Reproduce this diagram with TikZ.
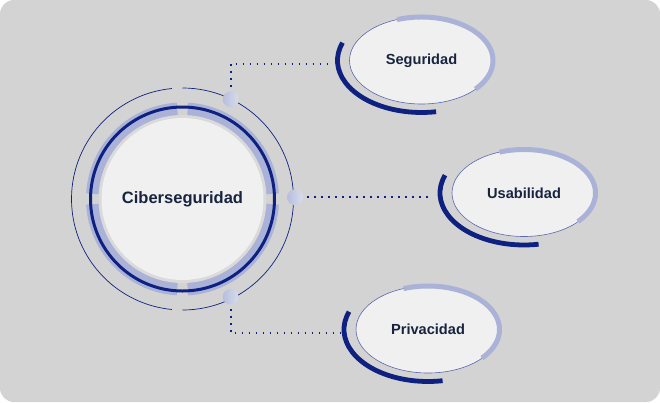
\documentclass[tikz,border=0pt]{standalone}
\usepackage{fontspec}
\setmainfont{Liberation Sans}
\usetikzlibrary{shapes.geometric}
\definecolor{bg}{HTML}{D3D3D3}
\definecolor{navy}{HTML}{0F2180}
\definecolor{lightblue}{HTML}{AAB2D7}
\definecolor{fillc}{HTML}{F0F0F0}
\definecolor{rimc}{HTML}{DADADA}
\definecolor{txt}{HTML}{18243F}
\definecolor{outl}{HTML}{5A66B0}
\begin{document}
\begin{tikzpicture}[x=1pt,y=1pt,
  bandarc/.style={draw=lightblue, line width=13pt},
  darkring/.style={draw=navy, line width=3pt},
  thinring/.style={draw=navy, line width=0.7pt},
  maincirc/.style={circle, fill=fillc, minimum size=162pt, inner sep=0pt,
    font=\fontsize{16.5}{18}\selectfont\bfseries, text=txt},
  knob/.style={circle, minimum size=16pt, inner sep=0pt,
    left color=lightblue!85!white, right color=lightblue!45!white},
  ell/.style={ellipse, fill=fillc, draw=outl, line width=0.6pt,
    minimum width=144pt, minimum height=87pt, inner sep=0pt,
    font=\fontsize{14.6}{16}\selectfont\bfseries, text=txt},
  lightarc/.style={draw=lightblue, line width=5pt},
  darkarc/.style={draw=navy, line width=4.8pt},
  dotline/.style={draw=navy, line width=1.8pt, dash pattern=on 1.8pt off 5.2pt, dash phase=3pt}
]
\useasboundingbox (0,0) rectangle (660,-402);
\fill[white] (0,0) rectangle (660,-402);
\fill[bg, rounded corners=14pt] (0,0) rectangle (660,-402);

% main circle
\coordinate (O) at (182.5,-199);
\draw[thinring] ([shift={(95.5:111)}]O) arc[start angle=95.5, end angle=264.5, radius=111];
\draw[thinring] ([shift={(-90:111)}]O) arc[start angle=-90, end angle=90, radius=111];
\foreach \a in {0,90,180,270}
  \draw[bandarc] ([shift={(\a+3.3:90)}]O) arc[start angle=\a+3.3, end angle=\a+86.7, radius=90];
\draw[darkring] (O) circle[radius=92];
\fill[rimc] (O) circle[radius=84];
\node[maincirc] (C) at (O) {Ciberseguridad};

% satellites
\foreach \n/\x/\y/\t in {s/421.5/-60.5/Seguridad, u/524/-193/Usabilidad, p/428/-329.5/Privacidad}{
  \coordinate (\n c) at (\x,\y);
  \node[ell] (\n) at (\n c) {\t};
  \draw[lightarc] ([shift={(110:71.5 and 43.5)}]\n c) arc[start angle=110, end angle=-41, x radius=71.5, y radius=43.5];
  \draw[darkarc] ([shift={(160:84 and 52)}]\n c) arc[start angle=160, end angle=280, x radius=84, y radius=52];
}

% knobs
\node[knob] (d1) at (230.7,-99.3) {};
\node[knob] (d2) at (295,-197.3) {};
\node[knob] (d3) at (230.7,-296.7) {};

% connectors
\coordinate (se) at ([shift={(-19pt,-3.5pt)}]s.west);
\coordinate (ue) at ([shift={(-19pt,-3.5pt)}]u.west);
\coordinate (pe) at ([shift={(-16pt,-3.5pt)}]p.west);
\draw[dotline] (d1.north) -- (d1.north |- se) -- (se);
\draw[dotline] (d2.east) -- (d2.east -| ue);
\draw[dotline] (d3.south) -- (d3.south |- pe) -- (pe);
\end{tikzpicture}
\end{document}
